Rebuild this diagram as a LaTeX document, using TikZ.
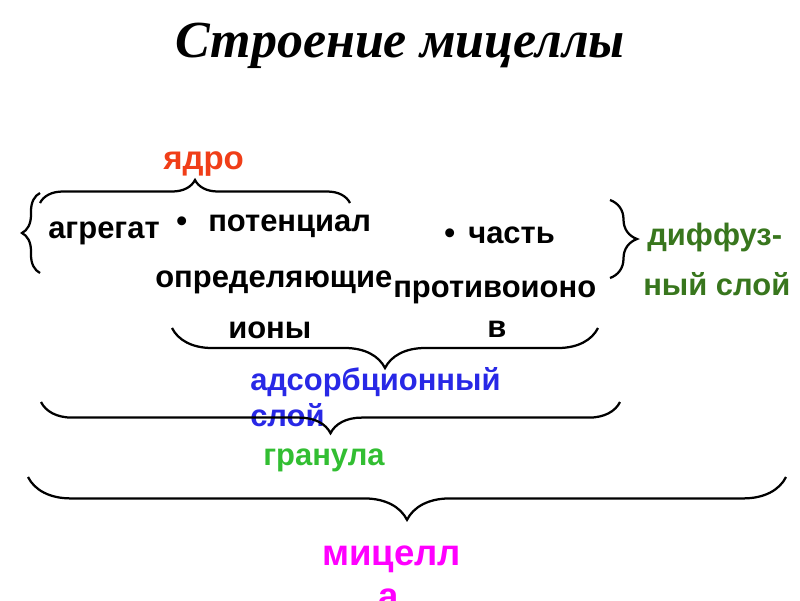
\documentclass[tikz,border=0pt]{standalone}
\usepackage{fontspec}
\setmainfont{Liberation Sans}
\newfontfamily\titlefont{Liberation Serif}
\usetikzlibrary{decorations.pathreplacing}
\definecolor{coreRed}{RGB}{240,62,24}
\definecolor{diffGreen}{RGB}{56,118,29}
\definecolor{adsBlue}{RGB}{40,40,230}
\definecolor{granGreen}{RGB}{50,190,50}
\definecolor{micMagenta}{RGB}{255,0,255}

\tikzset{
  txt/.style={font=\fontsize{22}{26}\selectfont\bfseries, anchor=base west, inner sep=0pt},
  curly/.style={decorate, decoration={brace, amplitude=#1}, line width=1.6pt},
  curly/.default=0.5cm,
}

\begin{document}
\begin{tikzpicture}[x=0.025cm, y=-0.025cm]
    \useasboundingbox (0,0) rectangle (800,600);

    %% title
    \node[anchor=base, inner sep=0pt, font=\titlefont\fontsize{37}{40}\selectfont\bfseries\itshape] (title) at (400,57) {Строение мицеллы};

    %% drawing the core
    \node[txt, text=coreRed, font=\fontsize{23.5}{27}\selectfont\bfseries] (core) at (163,169) {ядро};
    \draw[curly=0.575cm] (40,203) -- (350,203);
    \draw[curly=0.45cm] (40,273) -- (40,193);
    \node[txt] (aggr) at (48,238) {агрегат};
    \node[txt] (dot1) at (176,231) {•};
    \node[txt] (pot1) at (208,231) {потенциал};
    \node[txt] (pot2) at (155,287) {определяющие};
    \node[txt] (pot3) at (228,338) {ионы};

    %% drawing the counter-ions
    \node[txt] (dot2) at (444,243) {•};
    \node[txt] (cnt1) at (468,243) {часть};
    \node[txt] (cnt2) at (393,297) {противоионо};
    \node[txt] (cnt3) at (487,337) {в};

    %% diffuse layer
    \draw[curly=0.675cm] (610,200) -- (610,278);
    \node[txt, text=diffGreen] (diff1) at (647,245) {диффуз-};
    \node[txt, text=diffGreen] (diff2) at (643,295) {ный слой};

    %% adsorption layer
    \draw[curly=1cm] (598,328) -- (172,328);
    \node[txt, text=adsBlue] (ads1) at (250,390) {адсорбционный};
    \node[txt, text=adsBlue] (ads2) at (250,426) {слой};

    %% granule
    \draw[curly=0.78cm] (620,402) -- (41,402);
    \node[txt, text=granGreen] (gran) at (263,465) {гранула};

    %% micelle
    \draw[curly=1.07cm] (786,477) -- (28,477);
    \node[txt, text=micMagenta, font=\fontsize{26}{30}\selectfont\bfseries] (mic1) at (322,565) {мицелл};
    \node[txt, text=micMagenta, font=\fontsize{26}{30}\selectfont\bfseries] (mic2) at (378,608) {а};
  \end{tikzpicture}
\end{document}
